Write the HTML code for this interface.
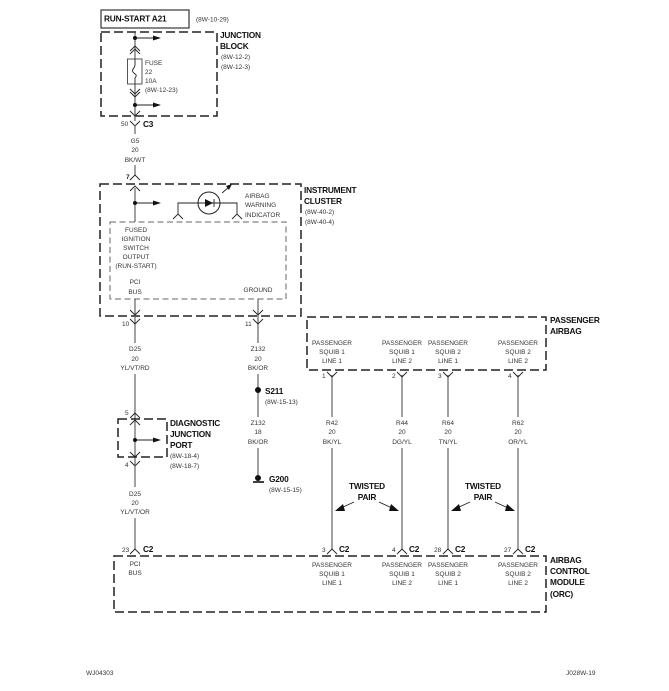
<!DOCTYPE html>
<html><head><meta charset="utf-8"><style>
html,body{margin:0;padding:0;background:#fff;width:669px;height:691px;overflow:hidden}
svg{display:block;filter:blur(0.35px)}
text{font-family:"Liberation Sans",sans-serif;font-size:6.5px;fill:#333}
.b{font-weight:bold;font-size:8.3px;fill:#111;letter-spacing:-.2px}
.c{text-anchor:middle}
.d{fill:none;stroke:#222;stroke-width:1.5;stroke-dasharray:9 4}
.w{fill:none;stroke:#555;stroke-width:1.1}
.k{fill:none;stroke:#222;stroke-width:.9}
</style></head><body>
<svg width="669" height="691" viewBox="0 0 669 691" xmlns="http://www.w3.org/2000/svg">
<defs>
<g id="ar"><path d="M135 0H155" class="k"/><path d="M153 -2.5L161 0L153 2.5Z" fill="#111"/><circle cx="135" cy="0" r="2" fill="#111"/></g>
<path id="up" d="M-5 4L0 -1L5 4" class="k"/>
<path id="dn" d="M-5 -4L0 1L5 -4" class="k"/>
</defs>

<!-- header -->
<rect x="101" y="10" width="88" height="18" fill="none" stroke="#222" stroke-width="1.1"/>
<text x="104" y="21.5" class="b">RUN-START A21</text>
<text x="196" y="21.5">(8W-10-29)</text>

<!-- junction block -->
<rect x="101" y="32" width="116" height="84" class="d"/>
<text x="220" y="38" class="b">JUNCTION</text>
<text x="220" y="49" class="b">BLOCK</text>
<text x="221" y="59">(8W-12-2)</text>
<text x="221" y="69">(8W-12-3)</text>
<path d="M135 32V59M135 84V121" class="w"/>
<use href="#ar" y="38"/><use href="#ar" y="105"/>
<use href="#up" x="135" y="47"/><use href="#up" x="135" y="50"/>
<use href="#dn" x="135" y="93"/><use href="#dn" x="135" y="96"/>
<use href="#dn" x="135" y="115"/>
<rect x="127.5" y="59" width="14.5" height="25" fill="none" stroke="#444" stroke-width=".9"/>
<path d="M135 59V65C135 69 131 69 133 72S138 74 135 78V84" class="k"/>
<text x="145" y="65">FUSE</text>
<text x="145" y="74">22</text>
<text x="145" y="83">10A</text>
<text x="145" y="92">(8W-12-23)</text>

<!-- C3 -->
<use href="#dn" x="135" y="125"/>
<path d="M135 125V134" class="w"/>
<text x="121" y="126">50</text>
<text x="143" y="127" class="b">C3</text>
<text x="135" y="143" class="c">G5</text>
<text x="135" y="152" class="c">20</text>
<text x="135" y="162" class="c">BK/WT</text>
<path d="M135 165V176" class="w"/>
<text x="126" y="179" style="font-weight:bold;fill:#222">7</text>
<use href="#up" x="135" y="176"/>

<!-- instrument cluster -->
<rect x="100" y="184" width="201" height="132" class="d"/>
<rect x="110" y="222" width="176" height="77" fill="none" stroke="#666" stroke-width="1" stroke-dasharray="6 3.5"/>
<text x="304" y="193" class="b">INSTRUMENT</text>
<text x="304" y="204" class="b">CLUSTER</text>
<text x="305" y="214">(8W-40-2)</text>
<text x="305" y="224">(8W-40-4)</text>
<path d="M135 188V222" class="w"/>
<use href="#up" x="135" y="187"/>
<use href="#ar" y="203"/>
<circle cx="209" cy="203" r="11" fill="none" stroke="#222" stroke-width="1"/>
<path d="M178 214V203H237V214" class="k"/>
<path d="M205 199L213 203L205 207Z" fill="#111"/><path d="M214 199V207" class="k"/>
<path d="M222 193L229 187" class="k"/><path d="M232 184L226 186L229 190Z" fill="#111"/>
<use href="#up" x="178" y="215"/><use href="#up" x="237" y="215"/>
<text x="245" y="198">AIRBAG</text>
<text x="245" y="207">WARNING</text>
<text x="245" y="217">INDICATOR</text>
<g class="c">
<text x="136" y="232">FUSED</text>
<text x="136" y="241">IGNITION</text>
<text x="136" y="250">SWITCH</text>
<text x="136" y="259">OUTPUT</text>
<text x="136" y="268">(RUN-START)</text>
<text x="135" y="284">PCI</text>
<text x="135" y="294">BUS</text>
<text x="258" y="292">GROUND</text>
</g>
<path d="M135 299V343M258 299V343" class="w"/>
<use href="#dn" x="135" y="314"/><use href="#dn" x="258" y="314"/>
<use href="#dn" x="135" y="323"/><use href="#dn" x="258" y="323"/>
<text x="122" y="326">10</text>
<text x="245" y="326">11</text>
<g class="c">
<text x="135" y="351">D25</text><text x="135" y="361">20</text><text x="135" y="370">YL/VT/RD</text>
<text x="258" y="351">Z132</text><text x="258" y="361">20</text><text x="258" y="370">BK/OR</text>
</g>

<!-- left run -->
<path d="M135 374V458" class="w"/>
<text x="125" y="415">5</text>
<use href="#up" x="135" y="414"/>
<use href="#up" x="135" y="421"/>
<rect x="118" y="419" width="49" height="38" class="d"/>
<text x="170" y="426" class="b">DIAGNOSTIC</text>
<text x="170" y="437" class="b">JUNCTION</text>
<text x="170" y="448" class="b">PORT</text>
<text x="170" y="458">(8W-18-4)</text>
<text x="170" y="468">(8W-18-7)</text>
<use href="#ar" y="440"/>
<use href="#dn" x="135" y="456"/>
<use href="#dn" x="135" y="465"/>
<path d="M135 458V487" class="w"/>
<text x="125" y="467">4</text>
<g class="c">
<text x="135" y="496">D25</text><text x="135" y="505">20</text><text x="135" y="514">YL/VT/OR</text>
</g>
<path d="M135 518V550" class="w"/>
<use href="#up" x="135" y="550"/>
<text x="122" y="552">23</text>
<text x="143" y="552" class="b">C2</text>

<!-- ground run -->
<path d="M258 374V417M258 448V475" class="w"/>
<circle cx="258" cy="390" r="3" fill="#111"/>
<text x="265" y="394" class="b">S211</text>
<text x="265" y="404">(8W-15-13)</text>
<g class="c">
<text x="258" y="425">Z132</text><text x="258" y="434">18</text><text x="258" y="444">BK/OR</text>
</g>
<circle cx="258" cy="478" r="3" fill="#111"/>
<path d="M253 482H264" stroke="#111" stroke-width="1.6"/>
<text x="269" y="482" class="b">G200</text>
<text x="269" y="492">(8W-15-15)</text>

<!-- passenger airbag -->
<rect x="307" y="317" width="239" height="53" class="d"/>
<text x="550" y="323" class="b">PASSENGER</text>
<text x="550" y="334" class="b">AIRBAG</text>
<g class="c">
<text x="332" y="345">PASSENGER</text><text x="332" y="354">SQUIB 1</text><text x="332" y="363">LINE 1</text>
<text x="402" y="345">PASSENGER</text><text x="402" y="354">SQUIB 1</text><text x="402" y="363">LINE 2</text>
<text x="448" y="345">PASSENGER</text><text x="448" y="354">SQUIB 2</text><text x="448" y="363">LINE 1</text>
<text x="518" y="345">PASSENGER</text><text x="518" y="354">SQUIB 2</text><text x="518" y="363">LINE 2</text>
</g>
<path d="M332 375V417M402 375V417M448 375V417M518 375V417M332 448V550M402 448V550M448 448V550M518 448V550" class="w"/>
<use href="#dn" x="332" y="376"/><use href="#dn" x="402" y="376"/><use href="#dn" x="448" y="376"/><use href="#dn" x="518" y="376"/>
<text x="322" y="378">1</text><text x="392" y="378">2</text><text x="438" y="378">3</text><text x="508" y="378">4</text>
<g class="c">
<text x="332" y="425">R42</text><text x="332" y="434">20</text><text x="332" y="444">BK/YL</text>
<text x="402" y="425">R44</text><text x="402" y="434">20</text><text x="402" y="444">DG/YL</text>
<text x="448" y="425">R64</text><text x="448" y="434">20</text><text x="448" y="444">TN/YL</text>
<text x="518" y="425">R62</text><text x="518" y="434">20</text><text x="518" y="444">OR/YL</text>
</g>

<!-- twisted pair -->
<text x="367" y="489" class="b c">TWISTED</text>
<text x="367" y="500" class="b c">PAIR</text>
<text x="483" y="489" class="b c">TWISTED</text>
<text x="483" y="500" class="b c">PAIR</text>
<path d="M354 502L341 508M379 502L392 508M470 502L457 508M495 502L508 508" class="k"/>
<path d="M335 511L343 504L345 511Z M399 511L391 504L389 511Z M451 511L459 504L461 511Z M515 511L507 504L505 511Z" fill="#111"/>

<!-- module -->
<use href="#up" x="332" y="550"/><use href="#up" x="402" y="550"/><use href="#up" x="448" y="550"/><use href="#up" x="518" y="550"/>
<text x="322" y="552">3</text><text x="392" y="552">4</text><text x="434" y="552">28</text><text x="504" y="552">27</text>
<text x="339" y="552" class="b">C2</text><text x="409" y="552" class="b">C2</text><text x="455" y="552" class="b">C2</text><text x="525" y="552" class="b">C2</text>
<rect x="114" y="556" width="432" height="56" class="d"/>
<text x="550" y="563" class="b">AIRBAG</text>
<text x="550" y="574" class="b">CONTROL</text>
<text x="550" y="585" class="b">MODULE</text>
<text x="550" y="597" class="b">(ORC)</text>
<g class="c">
<text x="135" y="566">PCI</text><text x="135" y="575">BUS</text>
<text x="332" y="567">PASSENGER</text><text x="332" y="576">SQUIB 1</text><text x="332" y="585">LINE 1</text>
<text x="402" y="567">PASSENGER</text><text x="402" y="576">SQUIB 1</text><text x="402" y="585">LINE 2</text>
<text x="448" y="567">PASSENGER</text><text x="448" y="576">SQUIB 2</text><text x="448" y="585">LINE 1</text>
<text x="518" y="567">PASSENGER</text><text x="518" y="576">SQUIB 2</text><text x="518" y="585">LINE 2</text>
</g>

<text x="86" y="675">WJ04303</text>
<text x="566" y="675">J028W-19</text>
</svg>
</body></html>
